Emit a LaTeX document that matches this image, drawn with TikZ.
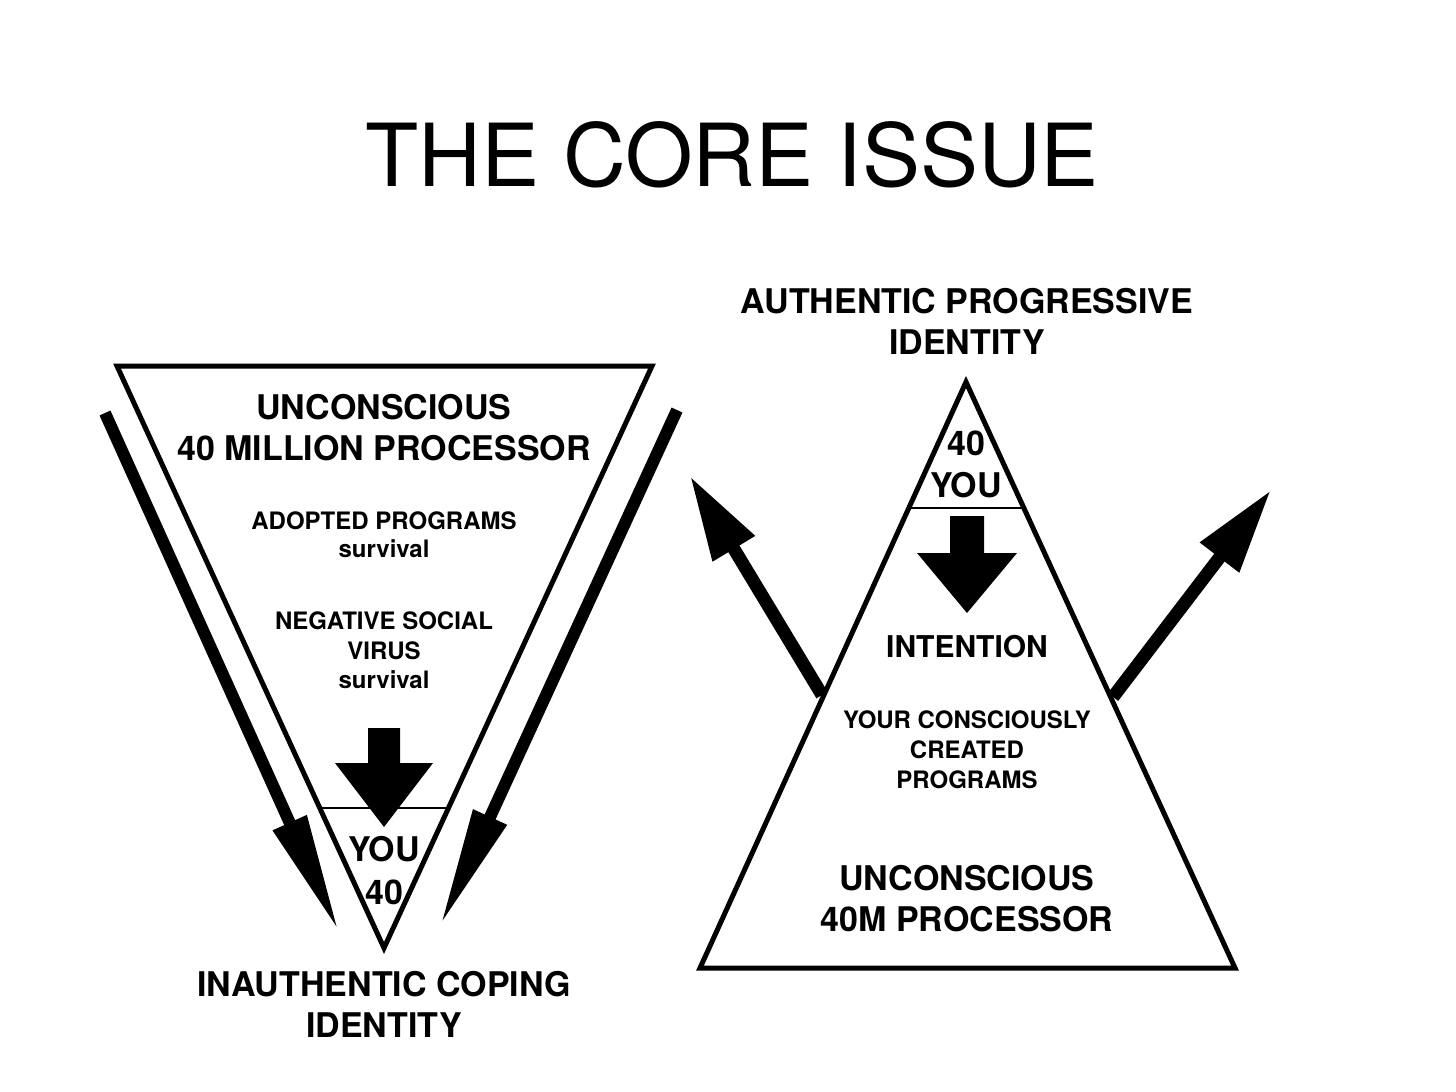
\documentclass[tikz,border=0pt]{standalone}
\usepackage{fontspec}
\setmainfont{TeX Gyre Heros}
\usetikzlibrary{arrows.meta}
\tikzset{
  big/.style={font=\bfseries\fontsize{34}{40}\selectfont, anchor=base, inner sep=0pt},
  mid/.style={font=\bfseries\fontsize{30}{36}\selectfont, anchor=base, inner sep=0pt},
  small/.style={font=\bfseries\fontsize{24}{28}\selectfont, anchor=base, inner sep=0pt},
  titletext/.style={font=\fontsize{87}{100}\selectfont, anchor=base, inner sep=0pt},
  tri/.style={line width=5pt, line join=miter},
  chord/.style={line width=2.5pt},
  longarrow/.style={line width=12pt, -{Triangle[length=120pt,width=34pt]}},
  uparrow/.style={line width=13pt, -{Triangle[length=85pt,width=46pt]}},
  blockarrow/.style={fill=black, draw=none},
}
\begin{document}
\begin{tikzpicture}[x=1pt,y=-1pt]
\useasboundingbox[fill=white] (0,0) rectangle (1456,1092);

% title
\node[titletext] (title) at (732,186) {THE CORE ISSUE};

% ---------- left inverted triangle ----------
\coordinate (LA) at (117,366);
\coordinate (LB) at (652,366);
\coordinate (LC) at (384,948);
\draw[tri] (LA) -- (LB) -- (LC) -- cycle;
\coordinate (LchL) at (320,808);
\coordinate (LchR) at (448,808);
\draw[chord] (LchL) -- (LchR);

\node[big] (l1) at (384,419) {UNCONSCIOUS};
\node[big] (l2) at (384,460) {40 MILLION PROCESSOR};
\node[small] (l3) at (384,529) {ADOPTED PROGRAMS};
\node[small] (l4) at (384,557) {survival};
\node[small] (l5) at (384,629) {NEGATIVE SOCIAL};
\node[small] (l6) at (384,659) {VIRUS};
\node[small] (l7) at (384,688) {survival};
\node[big] (lyou) at (384,861) {YOU};
\node[big] (l40) at (384,904) {40};

% block arrow (left)
\fill[blockarrow] (368,728) -- (400,728) -- (400,763) -- (433,763) -- (384,827)
  -- (335,763) -- (368,763) -- cycle;

% long side arrows
\coordinate (LLs) at (105,413);
\coordinate (LLe) at (339,932);
\draw[longarrow] (LLs) -- (LLe);
\coordinate (LRs) at (677,410);
\coordinate (LRe) at (440,926);
\draw[longarrow] (LRs) -- (LRe);

\node[big] (lb1) at (384,996) {INAUTHENTIC COPING};
\node[big] (lb2) at (384,1037) {IDENTITY};

% ---------- right triangle ----------
\node[big] (rt1) at (967,313) {AUTHENTIC PROGRESSIVE};
\node[big] (rt2) at (967,354) {IDENTITY};

\coordinate (RA) at (966,382);
\coordinate (RB) at (1235,968);
\coordinate (RC) at (700,968);
\draw[tri] (RA) -- (RB) -- (RC) -- cycle;
\coordinate (RchL) at (907,508);
\coordinate (RchR) at (1025,508);
\draw[chord] (RchL) -- (RchR);

\node[big] (r40) at (966,455) {40};
\node[big] (ryou) at (966,497) {YOU};

\fill[blockarrow] (950,516) -- (984,516) -- (984,553) -- (1017,553) -- (967,613)
  -- (917,553) -- (950,553) -- cycle;

\node[mid] (rint) at (967,657) {INTENTION};
\node[small] (r1) at (967,728) {YOUR CONSCIOUSLY};
\node[small] (r2) at (967,758) {CREATED};
\node[small] (r3) at (967,788) {PROGRAMS};
\node[big] (r4) at (967,890) {UNCONSCIOUS};
\node[big] (r5) at (967,931) {40M PROCESSOR};

% up arrows
\coordinate (ULs) at (822,695);
\coordinate (ULe) at (690,476);
\draw[uparrow] (ULs) -- (ULe);
\coordinate (URs) at (1113,697);
\coordinate (URe) at (1271,490);
\draw[uparrow] (URs) -- (URe);
\end{tikzpicture}
\end{document}
